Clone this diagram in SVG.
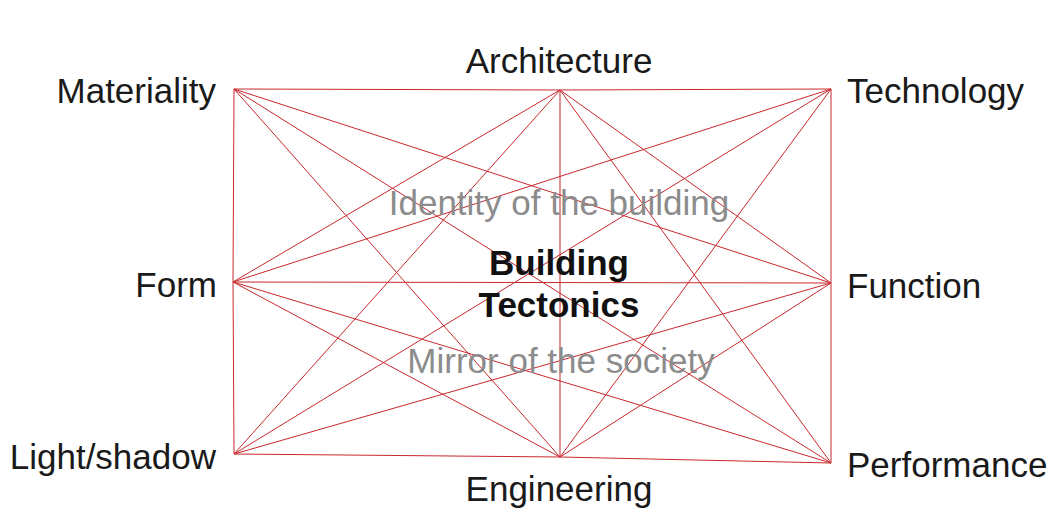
<svg xmlns="http://www.w3.org/2000/svg" width="1057" height="527" viewBox="0 0 1057 527">
<style>
.lbl{font-family:"Liberation Sans",Arial,sans-serif;font-size:35px;fill:#1a1a1a}
.sub{font-family:"Liberation Sans",Arial,sans-serif;font-size:35px;fill:#8c8c8c;text-anchor:middle}
.ttl{font-family:"Liberation Sans",Arial,sans-serif;font-size:35px;font-weight:bold;fill:#111;text-anchor:middle}
.e{stroke:#c8282d;stroke-width:1;fill:none}
</style>
<rect width="1057" height="527" fill="#fff"/>
<g id="connectors">
<!-- Materiality M(234,89) -->
<line class="e" x1="234" y1="89" x2="560" y2="90"/>
<line class="e" x1="560" y1="90" x2="831" y2="89"/>
<line class="e" x1="234" y1="89" x2="233" y2="282"/>
<line class="e" x1="233" y1="282" x2="234" y2="454"/>
<line class="e" x1="234" y1="89" x2="831" y2="283"/>
<line class="e" x1="234" y1="89" x2="560" y2="457"/>
<line class="e" x1="234" y1="89" x2="831" y2="463"/>
<!-- Architecture A(560,90) -->
<line class="e" x1="560" y1="90" x2="233" y2="282"/>
<line class="e" x1="560" y1="90" x2="234" y2="454"/>
<line class="e" x1="560" y1="90" x2="831" y2="283"/>
<line class="e" x1="560" y1="90" x2="560" y2="457"/>
<line class="e" x1="560" y1="90" x2="831" y2="463"/>
<!-- Technology T(831,89) -->
<line class="e" x1="831" y1="89" x2="831" y2="283"/>
<line class="e" x1="831" y1="283" x2="831" y2="463"/>
<line class="e" x1="831" y1="89" x2="233" y2="282"/>
<line class="e" x1="831" y1="89" x2="234" y2="454"/>
<line class="e" x1="831" y1="89" x2="560" y2="457"/>
<!-- Form F(233,282) -->
<line class="e" x1="233" y1="282" x2="831" y2="283"/>
<line class="e" x1="233" y1="282" x2="560" y2="457"/>
<line class="e" x1="233" y1="282" x2="831" y2="463"/>
<!-- Function Fn(831,283) -->
<line class="e" x1="831" y1="283" x2="234" y2="454"/>
<line class="e" x1="831" y1="283" x2="560" y2="457"/>
<!-- bottom -->
<line class="e" x1="234" y1="454" x2="560" y2="457"/>
<line class="e" x1="560" y1="457" x2="831" y2="463"/>
</g>
<g id="materiality"><text class="lbl" x="216" y="103" text-anchor="end">Materiality</text></g>
<g id="architecture"><text class="lbl" x="559" y="73" text-anchor="middle">Architecture</text></g>
<g id="technology"><text class="lbl" x="847" y="103">Technology</text></g>
<g id="form"><text class="lbl" x="217" y="297" text-anchor="end">Form</text></g>
<g id="function"><text class="lbl" x="847" y="298">Function</text></g>
<g id="lightshadow"><text class="lbl" x="216" y="469" text-anchor="end">Light/shadow</text></g>
<g id="engineering"><text class="lbl" x="559" y="501" text-anchor="middle">Engineering</text></g>
<g id="performance"><text class="lbl" x="847" y="477">Performance</text></g>
<g id="center">
<text class="sub" x="559" y="215">Identity of the building</text>
<text class="ttl" x="559" y="275">Building</text>
<text class="ttl" x="559" y="317">Tectonics</text>
<text class="sub" x="561" y="373">Mirror of the society</text>
</g>
</svg>
